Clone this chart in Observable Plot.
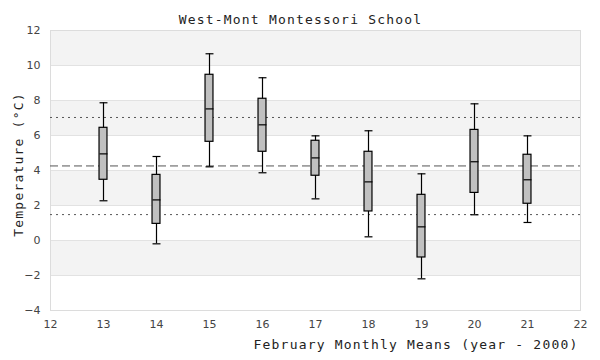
<!DOCTYPE html>
<html>
<head>
<meta charset="utf-8">
<script src="https://cdn.jsdelivr.net/npm/d3@7"></script>
<script src="https://cdn.jsdelivr.net/npm/@observablehq/plot@0.6"></script>
<style>
  html, body { margin: 0; padding: 0; background: #fff; }
  #chart svg { display: block; }
  #chart svg g.mono-label text { letter-spacing: 1.2px; }
</style>
</head>
<body>
<div id="chart"></div>
<script>
const years = [13, 14, 15, 16, 17, 18, 19, 20, 21];
const whiskerLow = [2.27, -0.19, 4.21, 3.87, 2.38, 0.21, -2.19, 1.47, 1.03];
const q1 = [3.47, 0.95, 5.64, 5.07, 3.70, 1.66, -0.97, 2.72, 2.10];
const medians = [4.95, 2.32, 7.52, 6.61, 4.72, 3.35, 0.78, 4.50, 3.47];
const q3 = [6.44, 3.75, 9.47, 8.10, 5.70, 5.07, 2.61, 6.32, 4.90];
const whiskerHigh = [7.87, 4.80, 10.67, 9.30, 5.98, 6.27, 3.81, 7.81, 5.98];

const overallMean = [4.26];
const sdLines = [7.03, 1.48];

const bandLow = [10, 6, 2, -2];
const bandHigh = [12, 8, 4, 0];

const xTicks = [12, 13, 14, 15, 16, 17, 18, 19, 20, 21, 22];
const yTicks = [-4, -2, 0, 2, 4, 6, 8, 10, 12];

const titleText = "West-Mont Montessori School";
const xLabel = "February Monthly Means (year - 2000)";
const yLabel = "Temperature (°C)";

const data = years.map((y, i) => ({
  year: y, lo: whiskerLow[i], q1: q1[i], med: medians[i], q3: q3[i], hi: whiskerHigh[i]
}));
const bands = bandLow.map((b, i) => ({ y1: b, y2: bandHigh[i] }));

const hw = 0.075;
const mono = "DejaVu Sans Mono, monospace";

const chart = Plot.plot({
  width: 600,
  height: 360,
  marginLeft: 50,
  marginRight: 20,
  marginTop: 30,
  marginBottom: 50,
  style: { fontFamily: "DejaVu Sans, sans-serif", fontSize: "11px", background: "#fff" },
  x: { domain: [12, 22] },
  y: { domain: [-4, 12] },
  marks: [
    Plot.rect(bands, { y1: "y1", y2: "y2", fill: "#f3f3f3" }),
    Plot.gridY(yTicks, { stroke: "#e2e2e2", strokeOpacity: 1, strokeWidth: 1 }),
    Plot.frame({ stroke: "#dcdcdc", strokeWidth: 1 }),
    Plot.ruleY(overallMean, { stroke: "#555", strokeDasharray: "8,4", strokeWidth: 1 }),
    Plot.ruleY(sdLines, { stroke: "#555", strokeDasharray: "2,4", strokeWidth: 1 }),
    Plot.ruleX(data, { x: "year", y1: "lo", y2: "hi", stroke: "black", strokeWidth: 1.2 }),
    Plot.link(data, { x1: d => d.year - hw, x2: d => d.year + hw, y1: "hi", y2: "hi", stroke: "black", strokeWidth: 1.2 }),
    Plot.link(data, { x1: d => d.year - hw, x2: d => d.year + hw, y1: "lo", y2: "lo", stroke: "black", strokeWidth: 1.2 }),
    Plot.rect(data, { x1: d => d.year - hw, x2: d => d.year + hw, y1: "q1", y2: "q3", fill: "#c0c0c0", stroke: "black", strokeWidth: 1.2 }),
    Plot.link(data, { x1: d => d.year - hw, x2: d => d.year + hw, y1: "med", y2: "med", stroke: "black", strokeWidth: 1.2 }),
    Plot.axisY({ ticks: yTicks, tickSize: 0, tickPadding: 10, label: null, fill: "#444" }),
    Plot.axisX({ ticks: xTicks, tickSize: 0, tickPadding: 10, label: null, fill: "#444" }),
    Plot.text([titleText], { text: d => d, frameAnchor: "top", dy: -16, dx: -15, fontFamily: mono, fontSize: 13, fill: "#222", className: "mono-label" }),
    Plot.text([xLabel], { text: d => d, frameAnchor: "bottom-right", dy: 38, dx: -2, fontFamily: mono, fontSize: 13, fill: "#222", className: "mono-label" }),
    Plot.text([yLabel], { text: d => d, frameAnchor: "left", textAnchor: "middle", rotate: -90, dx: -32, dy: -6, fontFamily: mono, fontSize: 13, fill: "#222", className: "mono-label" })
  ]
});
document.getElementById("chart").appendChild(chart);
</script>
</body>
</html>
